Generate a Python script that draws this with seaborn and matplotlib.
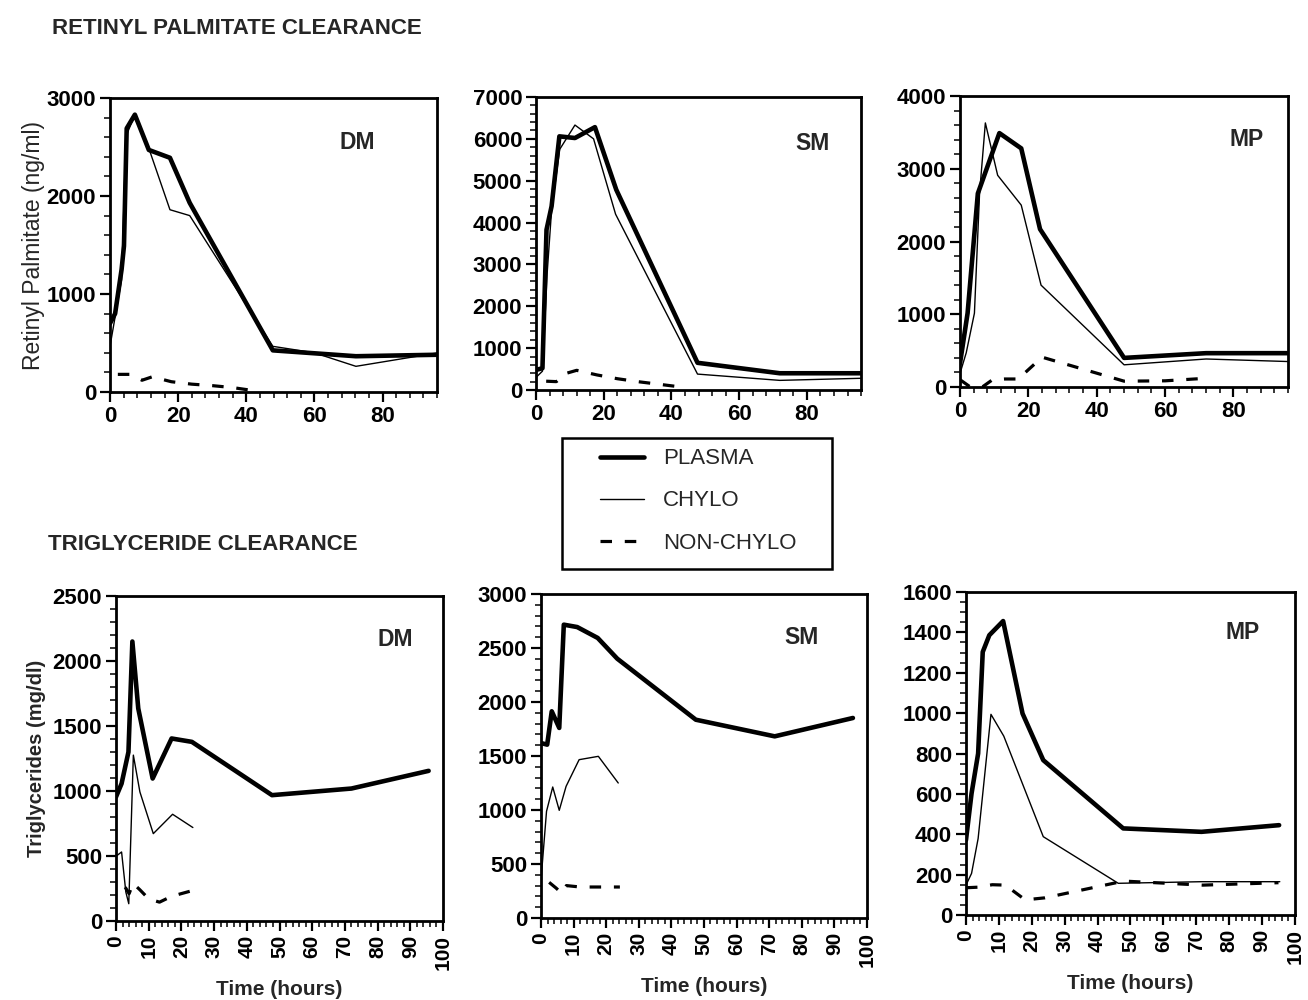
import matplotlib
matplotlib.use("Agg")
import matplotlib.pyplot as plt
from matplotlib.ticker import MultipleLocator
from matplotlib.lines import Line2D
from matplotlib.patches import Rectangle
import seaborn as sns

sns.set_style("ticks")
plt.rcParams['font.family'] = ['Liberation Sans', 'DejaVu Sans']

# ---------------- Retinyl palmitate (ng/ml) ----------------
rp_dm_plasma_t = [0, 1.5, 3.4, 4.1, 4.9, 7.3, 11.4, 17.6, 23.4, 47.8, 72.2, 96]
rp_dm_plasma_v = [700, 800, 1250, 1490, 2690, 2830, 2470, 2390, 1930, 425, 365, 380]
rp_dm_chylo_t = [0, 3.4, 4.7, 7.1, 11.7, 17.6, 23.4, 47.8, 60, 72.2, 96]
rp_dm_chylo_v = [466, 1146, 2610, 2813, 2456, 1860, 1800, 466, 400, 262, 398]
rp_dm_non_t = [2.3, 6, 9.4, 12.4, 18, 24, 30, 36, 42]
rp_dm_non_v = [180, 180, 120, 155, 105, 80, 65, 45, 15]

rp_sm_plasma_t = [0, 1.9, 3.1, 4.6, 6.9, 11.5, 17.4, 23.7, 47.7, 72, 96]
rp_sm_plasma_v = [480, 520, 3830, 4390, 6060, 6020, 6280, 4785, 650, 400, 400]
rp_sm_chylo_t = [0, 1.9, 3.3, 4.6, 7, 11.5, 17, 23.5, 47.7, 72, 96]
rp_sm_chylo_v = [300, 450, 2800, 4300, 5750, 6330, 6000, 4200, 380, 230, 280]
rp_sm_non_t = [3, 6, 9, 12, 18, 24, 30, 36, 42]
rp_sm_non_v = [210, 200, 400, 470, 360, 270, 200, 140, 80]

rp_mp_plasma_t = [0, 2.2, 5.2, 11.5, 17.9, 23.4, 48, 72, 96]
rp_mp_plasma_v = [330, 1015, 2660, 3490, 3280, 2170, 400, 465, 465]
rp_mp_chylo_t = [0, 1.8, 4.2, 5.7, 7.4, 11, 17.9, 23.7, 48, 72, 96]
rp_mp_chylo_v = [190, 470, 1015, 2660, 3630, 2910, 2500, 1400, 305, 385, 350]
rp_mp_non_t = [0, 3, 6.5, 9.5, 13, 17, 24, 48, 60, 72]
rp_mp_non_v = [100, 0, 0, 100, 110, 110, 410, 80, 85, 120]

# ---------------- Triglycerides (mg/dl) ----------------
tg_dm_plasma_t = [0, 1.7, 3.8, 5, 6.8, 11.2, 17, 23.2, 47.7, 72, 95.6]
tg_dm_plasma_v = [955, 1057, 1300, 2150, 1635, 1096, 1404, 1378, 968, 1019, 1155]
tg_dm_chylo_t = [0, 1.7, 3, 3.9, 5.3, 7.3, 11.4, 17.3, 23.5]
tg_dm_chylo_v = [498, 531, 223, 133, 1276, 993, 672, 821, 719]
tg_dm_non_t = [2.8, 4, 5.2, 7.3, 10, 13.3, 17, 23.5]
tg_dm_non_v = [260, 210, 290, 240, 170, 145, 190, 235]

tg_sm_plasma_t = [0, 1.9, 3.3, 5.6, 7, 11.1, 17.4, 23.4, 47.5, 71.7, 95.7]
tg_sm_plasma_v = [1620, 1605, 1914, 1760, 2716, 2694, 2593, 2401, 1836, 1682, 1852]
tg_sm_chylo_t = [0, 1.7, 3.6, 5.6, 7.7, 11.7, 17.6, 23.7]
tg_sm_chylo_v = [350, 988, 1213, 997, 1219, 1466, 1497, 1250]
tg_sm_non_t = [2.5, 4.6, 6.3, 7.8, 12, 18, 24.2]
tg_sm_non_v = [330, 278, 231, 300, 287, 287, 287]

tg_mp_plasma_t = [0, 1.7, 3.7, 5.1, 7.1, 11.3, 17.2, 23.5, 47.8, 71.6, 95.2]
tg_mp_plasma_v = [371, 602, 800, 1303, 1386, 1456, 998, 767, 429, 412, 445]
tg_mp_chylo_t = [0, 1.7, 3.7, 7.6, 11.5, 23.5, 46.3, 71.6, 95.4]
tg_mp_chylo_v = [148, 206, 379, 994, 886, 388, 157, 165, 165]
tg_mp_non_t = [0, 4, 8, 12, 18, 24, 48, 72, 95]
tg_mp_non_v = [135, 138, 150, 148, 75, 85, 168, 148, 160]

panel_labels = ["DM", "SM", "MP"]
legend_labels = ["PLASMA", "CHYLO", "NON-CHYLO"]

W, H = 1308, 1000
fig = plt.figure(figsize=(W / 100, H / 100), dpi=100)

top_pos = [(0.0841, 0.608, 0.250, 0.294),
           (0.4098, 0.610, 0.2485, 0.293),
           (0.7340, 0.613, 0.2508, 0.291)]
bot_pos = [(0.0887, 0.079, 0.250, 0.325),
           (0.4136, 0.082, 0.2492, 0.324),
           (0.7385, 0.085, 0.2515, 0.323)]

top_data = [
    (rp_dm_plasma_t, rp_dm_plasma_v, rp_dm_chylo_t, rp_dm_chylo_v, rp_dm_non_t, rp_dm_non_v),
    (rp_sm_plasma_t, rp_sm_plasma_v, rp_sm_chylo_t, rp_sm_chylo_v, rp_sm_non_t, rp_sm_non_v),
    (rp_mp_plasma_t, rp_mp_plasma_v, rp_mp_chylo_t, rp_mp_chylo_v, rp_mp_non_t, rp_mp_non_v),
]
bot_data = [
    (tg_dm_plasma_t, tg_dm_plasma_v, tg_dm_chylo_t, tg_dm_chylo_v, tg_dm_non_t, tg_dm_non_v),
    (tg_sm_plasma_t, tg_sm_plasma_v, tg_sm_chylo_t, tg_sm_chylo_v, tg_sm_non_t, tg_sm_non_v),
    (tg_mp_plasma_t, tg_mp_plasma_v, tg_mp_chylo_t, tg_mp_chylo_v, tg_mp_non_t, tg_mp_non_v),
]

top_ylim = [3000, 7000, 4000]
top_ymaj = [1000, 1000, 1000]
top_ymin = [200, 200, 200]
bot_ylim = [2500, 3000, 1600]
bot_ymaj = [500, 500, 200]
bot_ymin = [100, 100, 50]

top_lab_xy = [(0.755, 0.847), (0.85, 0.843), (0.875, 0.849)]
bot_lab_xy = [(0.853, 0.865), (0.80, 0.867), (0.84, 0.876)]

DASH = [3.6, 4.0]


def draw(ax, d):
    pt, pv, ct, cv, nt, nv = d
    sns.lineplot(x=pt, y=pv, ax=ax, color="black", linewidth=3.3,
                 estimator=None, sort=False)
    sns.lineplot(x=ct, y=cv, ax=ax, color="black", linewidth=1.0,
                 estimator=None, sort=False)
    sns.lineplot(x=nt, y=nv, ax=ax, color="black", linewidth=2.3,
                 estimator=None, sort=False)
    ax.lines[-1].set_dashes(DASH)
    for s in ax.spines.values():
        s.set_visible(True)
        s.set_linewidth(2.0)
        s.set_color("black")
    ax.tick_params(which="major", direction="out", length=7, width=1.6,
                   colors="black", pad=3)
    ax.tick_params(which="minor", direction="out", length=4, width=1.3)


def bold_ticks(ax):
    for lab in ax.get_xticklabels() + ax.get_yticklabels():
        lab.set_fontweight("bold")


for i in range(3):
    ax = fig.add_axes(top_pos[i])
    draw(ax, top_data[i])
    ax.set_xlim(0, 96)
    ax.set_ylim(0, top_ylim[i])
    ax.xaxis.set_major_locator(MultipleLocator(20))
    ax.xaxis.set_minor_locator(MultipleLocator(4))
    ax.yaxis.set_major_locator(MultipleLocator(top_ymaj[i]))
    ax.yaxis.set_minor_locator(MultipleLocator(top_ymin[i]))
    ax.tick_params(which="major", labelsize=16)
    bold_ticks(ax)
    ax.text(*top_lab_xy[i], panel_labels[i], transform=ax.transAxes,
            fontsize=16.5, fontweight="bold", ha="center", va="center")
    if i == 0:
        ax.set_ylabel("Retinyl Palmitate (ng/ml)", fontsize=16.5, labelpad=1)
    else:
        ax.set_ylabel("")
    ax.set_xlabel("")

for i in range(3):
    ax = fig.add_axes(bot_pos[i])
    draw(ax, bot_data[i])
    ax.set_xlim(0, 100)
    ax.set_ylim(0, bot_ylim[i])
    ax.xaxis.set_major_locator(MultipleLocator(10))
    ax.xaxis.set_minor_locator(MultipleLocator(2))
    ax.yaxis.set_major_locator(MultipleLocator(bot_ymaj[i]))
    ax.yaxis.set_minor_locator(MultipleLocator(bot_ymin[i]))
    ax.tick_params(axis="x", which="major", labelrotation=90, labelsize=15)
    ax.tick_params(axis="y", which="major", labelsize=16)
    bold_ticks(ax)
    ax.text(*bot_lab_xy[i], panel_labels[i], transform=ax.transAxes,
            fontsize=16.5, fontweight="bold", ha="center", va="center")
    ax.set_xlabel("Time (hours)", fontsize=15, fontweight="bold", labelpad=7)
    if i == 0:
        ax.set_ylabel("Triglycerides (mg/dl)", fontsize=14.5, fontweight="bold",
                      labelpad=5)
    else:
        ax.set_ylabel("")

fig.text(52 / W, 0.972, "RETINYL PALMITATE CLEARANCE", fontsize=16,
         fontweight="heavy", ha="left", va="center")
fig.text(48 / W, 0.455, "TRIGLYCERIDE CLEARANCE", fontsize=16,
         fontweight="heavy", ha="left", va="center")

# legend: entries placed without frame, box drawn as a separate rectangle
handles = [Line2D([], [], color="black", linewidth=3.3),
           Line2D([], [], color="black", linewidth=1.0),
           Line2D([], [], color="black", linewidth=2.3, dashes=DASH)]
leg = fig.legend(handles, legend_labels, loc="center left",
                 bbox_to_anchor=(600 / W, 1 - 501 / H), fontsize=16,
                 handlelength=2.0, handletextpad=0.85, labelspacing=0.95,
                 borderpad=0, borderaxespad=0, frameon=False)
fig.add_artist(Rectangle((562 / W, 1 - 569 / H), (832 - 562) / W, (569 - 438) / H,
                         transform=fig.transFigure, fill=False,
                         edgecolor="black", linewidth=1.8))

fig.savefig("out.png", dpi=100)
